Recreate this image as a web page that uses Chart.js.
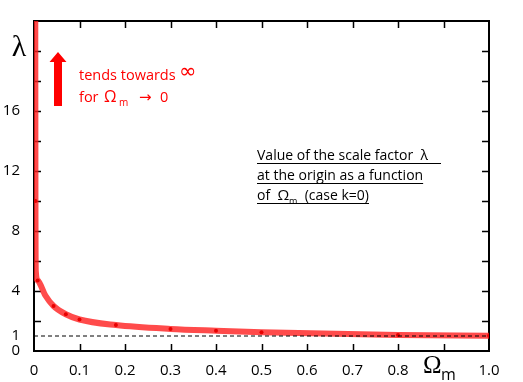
<!DOCTYPE html>
<html>
<head>
<meta charset="utf-8">
<script src="https://cdn.jsdelivr.net/npm/chart.js@4/dist/chart.umd.min.js"></script>
<style>
  html, body { margin: 0; padding: 0; background: #fff; }
  #wrap { width: 523px; height: 382px; }
</style>
</head>
<body>
<div id="wrap"><canvas id="lambdaChart"></canvas></div>
<script>
// Omega_m values and scale factor lambda
const omegaM = [0.0028, 0.0032, 0.004, 0.008, 0.025, 0.043, 0.07, 0.1, 0.18, 0.3, 0.4, 0.5, 0.8, 1.0];
const lambdaVals = [22, 10, 5.3, 4.7, 3.7, 3.0, 2.45, 2.1, 1.73, 1.47, 1.35, 1.25, 1.07, 1.02];
// reference line lambda = 1
const refOmega = [0, 1];
const refLambda = [1, 1];
// tick positions and labels
const xTicks = [0, 0.1, 0.2, 0.3, 0.4, 0.5, 0.6, 0.7, 0.8, 0.9, 1.0];
const xLabels = ['0', '0.1', '0.2', '0.3', '0.4', '0.5', '0.6', '0.7', '0.8', '', '1.0'];
const yTicks = [0, 1, 2, 4, 6, 8, 10, 12, 14, 16, 18, 20, 22];
const yLabels = ['0', '1', '', '4', '', '8', '', '12', '', '16', '', '', ''];

const FONT = '"Open Sans", "Liberation Sans", sans-serif';

const curve = omegaM.map((x, i) => ({ x: x, y: lambdaVals[i] }));
const refLine = refOmega.map((x, i) => ({ x: x, y: refLambda[i] }));

// frame, inward ticks and the text annotations
const decor = {
    id: 'decor',
    beforeDatasetsDraw(chart) {
        const ctx = chart.ctx;
        const a = chart.chartArea;
        const xs = chart.scales.x;
        const ys = chart.scales.y;
        ctx.save();
        ctx.strokeStyle = '#000';
        ctx.lineWidth = 1.5;
        ctx.beginPath();
        xTicks.forEach(v => {
            if (v === 0 || v === 1) return;
            const px = Math.round(xs.getPixelForValue(v)) + 0.5;
            ctx.moveTo(px, a.bottom); ctx.lineTo(px, a.bottom - 7);
            ctx.moveTo(px, a.top); ctx.lineTo(px, a.top + 7);
        });
        yTicks.forEach(v => {
            if (v === 0 || v === 1 || v === 22) return;
            const py = Math.round(ys.getPixelForValue(v)) + 0.5;
            ctx.moveTo(a.left, py); ctx.lineTo(a.left + 7, py);
            ctx.moveTo(a.right, py); ctx.lineTo(a.right - 7, py);
        });
        ctx.stroke();
        ctx.lineWidth = 2;
        ctx.strokeRect(a.left, a.top, a.right - a.left, a.bottom - a.top);
        ctx.restore();
    },
    afterDraw(chart) {
        const ctx = chart.ctx;
        ctx.save();
        ctx.textBaseline = 'alphabetic';

        // axis titles
        ctx.fillStyle = '#000';
        ctx.font = '30px "Liberation Serif", serif';
        ctx.textAlign = 'center';
        ctx.fillText('\u03bb', 19, 56);
        ctx.textAlign = 'left';
        ctx.font = '25px "Liberation Serif", serif';
        ctx.fillText('\u03a9', 423, 373);
        ctx.font = '16px ' + FONT;
        ctx.fillText('m', 441, 380);

        // red arrow and note
        ctx.fillStyle = '#ff0000';
        ctx.beginPath();
        ctx.moveTo(58, 52);
        ctx.lineTo(66.5, 62);
        ctx.lineTo(62, 62);
        ctx.lineTo(62, 106);
        ctx.lineTo(54, 106);
        ctx.lineTo(54, 62);
        ctx.lineTo(49.5, 62);
        ctx.closePath();
        ctx.fill();

        ctx.font = '14.5px ' + FONT;
        ctx.fillText('tends towards', 79, 80);
        ctx.font = '21px "DejaVu Sans", sans-serif';
        ctx.fillText('\u221e', 179, 78);
        ctx.font = '14.5px ' + FONT;
        ctx.fillText('for', 79, 102);
        ctx.font = '16px ' + FONT;
        ctx.fillText('\u03a9', 104, 102);
        ctx.font = '10px ' + FONT;
        ctx.fillText('m', 119, 106);
        ctx.font = '15px "DejaVu Sans", sans-serif';
        ctx.fillText('\u2192', 139, 102);
        ctx.font = '14.5px ' + FONT;
        ctx.fillText('0', 160, 102);

        // description, underlined
        ctx.fillStyle = '#000';
        ctx.strokeStyle = '#000';
        ctx.lineWidth = 1;
        const x0 = 257;
        ctx.font = '14px ' + FONT;
        ctx.fillText('Value of the scale factor  \u03bb', x0, 160);
        ctx.fillText('at the origin as a function', x0, 180);
        let x = x0;
        ctx.fillText('of  ', x, 200);
        x += ctx.measureText('of  ').width;
        ctx.font = '15px ' + FONT;
        ctx.fillText('\u03a9', x, 200);
        x += ctx.measureText('\u03a9').width;
        ctx.font = '9px ' + FONT;
        ctx.fillText('m', x, 204);
        x += ctx.measureText('m').width;
        ctx.font = '14px ' + FONT;
        ctx.fillText('  (case k=0)', x, 200);
        x += ctx.measureText('  (case k=0)').width;
        const w2 = ctx.measureText('at the origin as a function').width;
        ctx.beginPath();
        ctx.moveTo(x0, 163.5); ctx.lineTo(441, 163.5);
        ctx.moveTo(x0, 183.5); ctx.lineTo(x0 + w2, 183.5);
        ctx.moveTo(x0, 203.5); ctx.lineTo(x, 203.5);
        ctx.stroke();
        ctx.restore();
    }
};

const ctx = document.getElementById('lambdaChart').getContext('2d');
const lambdaChart = new Chart(ctx, {
    type: 'scatter',
    data: {
        datasets: [
            {
                label: 'lambda = 1',
                data: refLine,
                showLine: true,
                borderColor: '#000',
                borderWidth: 1,
                borderDash: [4, 3],
                pointRadius: 0
            },
            {
                label: 'lambda(Omega_m)',
                data: curve,
                showLine: true,
                borderColor: 'rgba(255, 30, 30, 0.8)',
                borderWidth: 6,
                cubicInterpolationMode: 'monotone',
                pointRadius: c => (c.dataIndex === 0 || c.dataIndex === 2 || c.dataIndex === 4) ? 0 : 2,
                pointBackgroundColor: '#e80000',
                pointBorderWidth: 0
            }
        ]
    },
    options: {
        responsive: true,
        maintainAspectRatio: false,
        animation: false,
        layout: { padding: { top: 21, right: 34, left: 0, bottom: 0 } },
        plugins: {
            legend: { display: false },
            tooltip: { enabled: false }
        },
        scales: {
            x: {
                type: 'linear',
                min: 0,
                max: 1,
                afterBuildTicks: s => { s.ticks = xTicks.map(v => ({ value: v })); },
                afterFit: s => { s.height = 31; },
                grid: { display: false },
                border: { display: false },
                ticks: {
                    autoSkip: false,
                    maxRotation: 0,
                    padding: 3,
                    color: '#000',
                    font: { family: FONT, size: 15 },
                    callback: (v, i) => xLabels[i]
                }
            },
            y: {
                type: 'linear',
                min: 0,
                max: 22,
                afterBuildTicks: s => { s.ticks = yTicks.map(v => ({ value: v })); },
                afterFit: s => { s.width = 34; },
                grid: { display: false },
                border: { display: false },
                ticks: {
                    autoSkip: false,
                    padding: 6,
                    color: '#000',
                    font: { family: FONT, size: 15 },
                    callback: (v, i) => yLabels[i]
                }
            }
        }
    },
    plugins: [decor]
});
</script>
</body>
</html>
